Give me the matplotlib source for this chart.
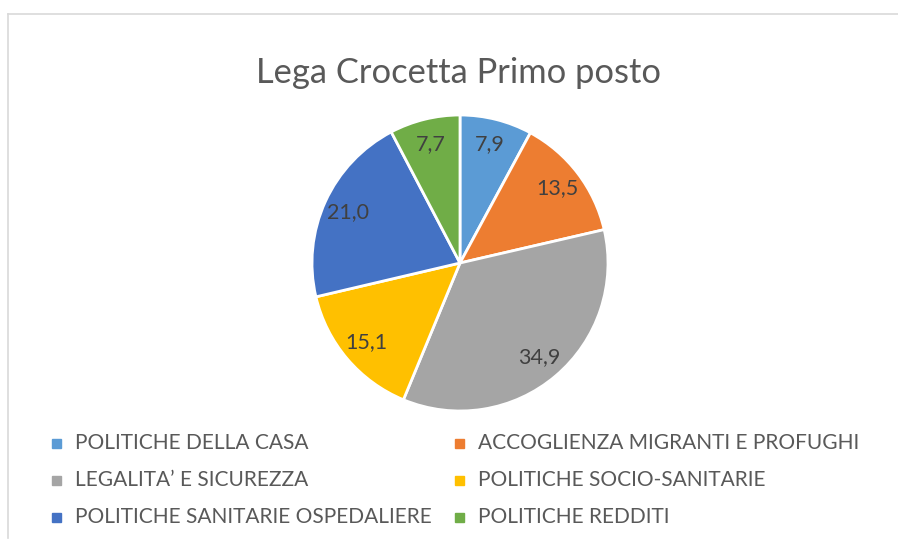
import matplotlib
matplotlib.use("Agg")
import matplotlib.pyplot as plt
from matplotlib.patches import Rectangle
from matplotlib.lines import Line2D

title = "Lega Crocetta Primo posto"
categories = ["POLITICHE DELLA CASA", "ACCOGLIENZA MIGRANTI E PROFUGHI",
              "LEGALITA\u2019 E SICUREZZA", "POLITICHE SOCIO-SANITARIE",
              "POLITICHE SANITARIE OSPEDALIERE", "POLITICHE REDDITI"]
values = [7.9, 13.5, 34.9, 15.1, 21.0, 7.7]
colors = ["#5B9BD5", "#ED7D31", "#A5A5A5", "#FFC000", "#4472C4", "#70AD47"]

W, H = 898, 543
fig = plt.figure(figsize=(W/100, H/100), dpi=100)
plt.rcParams['font.family'] = ['Lato', 'DejaVu Sans']
txt = "#595959"

# border
fig.add_artist(Line2D([8/W, 1], [1-14/H, 1-14/H], color="#D9D9D9", lw=1.2, transform=fig.transFigure))
fig.add_artist(Line2D([8/W, 8/W], [1-14/H, 1-538/H], color="#D9D9D9", lw=1.2, transform=fig.transFigure))

cx, cy, r = 460, 263, 148
ax = fig.add_axes([(cx-r)/W, (H-cy-r)/H, 2*r/W, 2*r/H])
it = iter([f"{v:.1f}".replace(".", ",") for v in values])
wedges, texts, autotexts = ax.pie(values, colors=colors, startangle=90, counterclock=False,
                                  wedgeprops=dict(edgecolor="white", linewidth=2),
                                  autopct=lambda p: next(it), pctdistance=0.83,
                                  textprops=dict(color="#404040", fontsize=15.5))
ax.set_xlim(-1, 1)
ax.set_ylim(-1, 1)
ax.set_aspect("equal")

fig.text(459/W, 1-73/H, title, ha="center", va="center", fontsize=24.8, color=txt)

xs = [52, 455]
ys = [443, 480, 517]
for i, (lab, c) in enumerate(zip(categories, colors)):
    col = i % 2
    row = i // 2
    x = xs[col]
    y = ys[row]
    fig.add_artist(Rectangle((x/W, (H-y-4.5)/H), 9/W, 9/H, color=c, transform=fig.transFigure))
    fig.text((x+23)/W, 1-y/H, lab, ha="left", va="center", fontsize=15, color=txt)

fig.savefig("out.png", dpi=100)
